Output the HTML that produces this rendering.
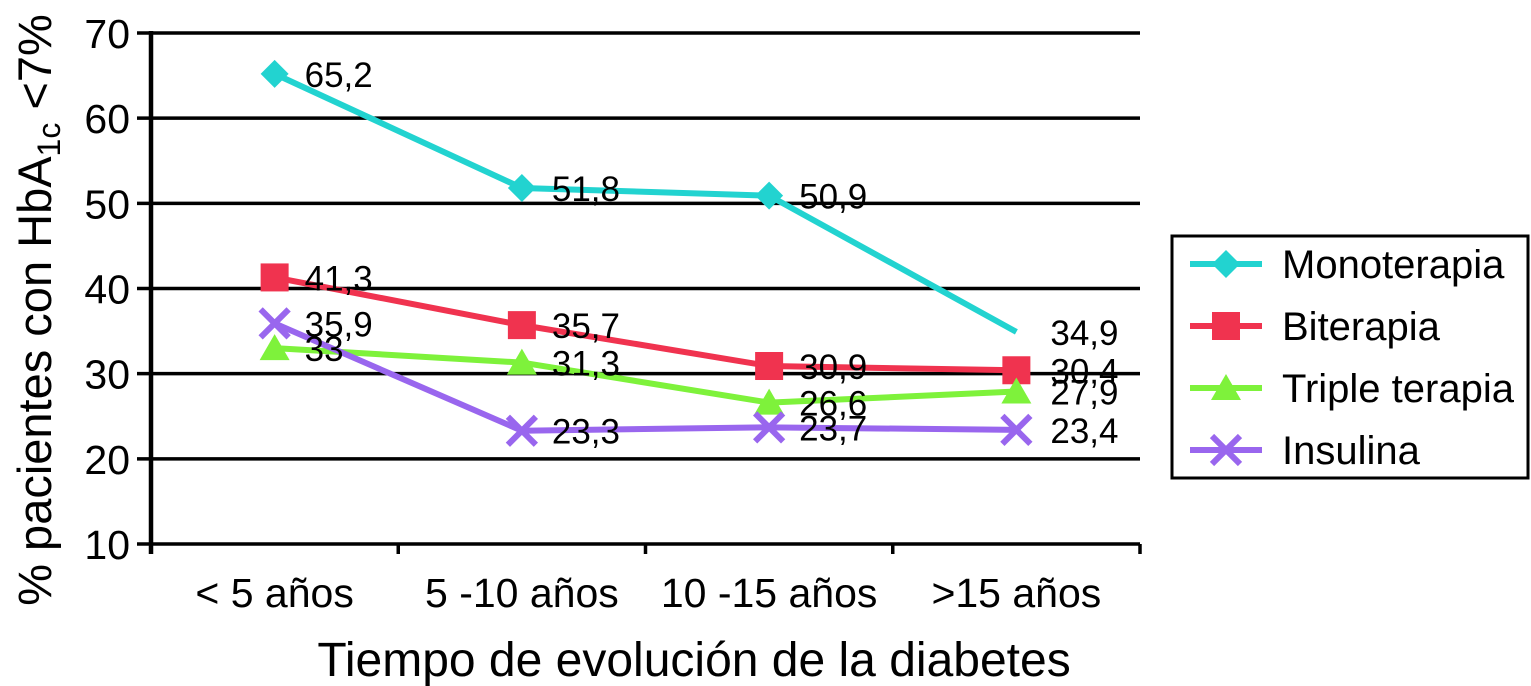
<!DOCTYPE html>
<html><head><meta charset="utf-8"><style>
body{margin:0;background:#fff;}
svg{display:block;font-family:"Liberation Sans",Arial,sans-serif;}
</style></head><body>
<svg id="chart" width="1531" height="686" viewBox="0 0 1531 686">
<g id="grid"></g><g id="series"></g><g id="labels"></g>
<text x="694" y="676" font-size="48" text-anchor="middle">Tiempo de evolución de la diabetes</text>
<text transform="translate(51,310) rotate(-90)" font-size="47" text-anchor="middle">% pacientes con HbA<tspan font-size="32" dy="9">1c</tspan><tspan dy="-9"> &lt;7%</tspan></text>
<g>
<rect x="1172" y="236" width="356" height="242" fill="#fff" stroke="#000" stroke-width="3"/>
<g id="legend"></g></g>
</svg>
<script>
const categories=["< 5 años","5 -10 años","10 -15 años",">15 años"];
const seriesNames=["Monoterapia","Biterapia","Triple terapia","Insulina"];
const mono=[65.2,51.8,50.9,34.9];
const bi=[41.3,35.7,30.9,30.4];
const triple=[33,31.3,26.6,27.9];
const insu=[35.9,23.3,23.7,23.4];
const yTicks=[10,20,30,40,50,60,70];
const colors=["#22d3d0","#f0334f","#7ef23b","#9966ee"];
const NS="http://www.w3.org/2000/svg";
const x0=151,x1=1140,yTop=33,yBot=544,yMin=10,yMax=70;
const xs=i=>x0+(x1-x0)*(i+0.5)/categories.length;
const ys=v=>yBot-(v-yMin)/(yMax-yMin)*(yBot-yTop);
function mk(tag,attrs,parent){const e=document.createElementNS(NS,tag);for(const k in attrs)e.setAttribute(k,attrs[k]);parent.appendChild(e);return e;}
const grid=document.getElementById('grid');
yTicks.forEach(t=>{
 const l=mk('line',{x1:137,x2:x1,y1:ys(t),y2:ys(t),stroke:'#000','stroke-width':3.5},grid);
 
 
 const tx=mk('text',{x:130,y:ys(t)+15,'font-size':41,'text-anchor':'end'},grid);tx.textContent=t;
 
 
});
mk('line',{x1:x0,x2:x0,y1:yTop-2,y2:yBot+10,stroke:'#000','stroke-width':4.5},grid);
for(let i=1;i<=categories.length;i++){mk('line',{x1:x0+(x1-x0)*i/categories.length,x2:x0+(x1-x0)*i/categories.length,y1:yBot,y2:yBot+10,stroke:'#000','stroke-width':3.5},grid);}
categories.forEach((c,i)=>{const t=mk('text',{x:xs(i),y:607,'font-size':41,'text-anchor':'middle'},grid);t.textContent=c;
 
 });
function marker(type,x,y,col,p){
 if(type==0)return mk('polygon',{points:`${x},${y-14} ${x+14},${y} ${x},${y+14} ${x-14},${y}`,fill:col},p);
 if(type==1)return mk('rect',{x:x-14,y:y-14,width:28,height:28,fill:col},p);
 if(type==2)return mk('polygon',{points:`${x},${y-14} ${x+15},${y+12} ${x-15},${y+12}`,fill:col},p);
 const g=mk('g',{},p);mk('line',{x1:x-14,y1:y-14,x2:x+14,y2:y+14,stroke:col,'stroke-width':6},g);mk('line',{x1:x-14,y1:y+14,x2:x+14,y2:y-14,stroke:col,'stroke-width':6},g);return g;
}
const sg=document.getElementById('series'),lg=document.getElementById('labels');
[mono,bi,triple,insu].forEach((d,s)=>{
 const pl=mk('polyline',{points:d.map((v,i)=>xs(i)+','+ys(v)).join(' '),fill:'none',stroke:colors[s],'stroke-width':6},sg);
 
 
 d.forEach((v,i)=>{
  if(!(s==0&&i==3)){const m=marker(s,xs(i),ys(v),colors[s],sg);
   
   }
  const off=(i==3)?34:30;
  const t=mk('text',{x:xs(i)+off,y:ys(v)+13,'font-size':35},lg);t.textContent=String(v).replace('.',',');
  
  
 });
});
const leg=document.getElementById('legend');
seriesNames.forEach((n,s)=>{const y=264+s*62;
 mk('line',{x1:1190,x2:1262,y1:y,y2:y,stroke:colors[s],'stroke-width':6},leg);
 marker(s,1226,y,colors[s],leg);
 const t=mk('text',{x:1282,y:y+14,'font-size':40},leg);t.textContent=n;
 
 
});
</script>
</body></html>
